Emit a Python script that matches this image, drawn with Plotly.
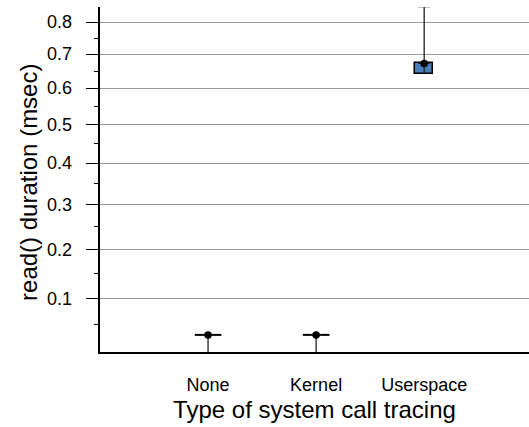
import numpy as np
import plotly.graph_objects as go

categories = ["None", "Kernel", "Userspace"]
cat_pos = [1, 2, 3]
means = [0.031, 0.031, 0.673]
box_low = [0.031, 0.031, 0.642]
box_high = [0.031, 0.031, 0.673]
whisk_low = [0.0, 0.0, 0.642]
whisk_high = [0.031, 0.031, 0.851]
major_ticks = [0.1, 0.2, 0.3, 0.4, 0.5, 0.6, 0.7, 0.8]
minor_ticks = [0.05, 0.15, 0.25, 0.35, 0.45, 0.55, 0.65, 0.75]
box_color = "#4A7EBB"

T = np.log1p  # log(1+y) scale
FONT = "Arial"
W, H = 529, 427
ML, MR, MT, MB = 100, 0, 7, 75
PW = W - ML - MR

m = T(np.array(means))
bl = T(np.array(box_low))
bh = T(np.array(box_high))
wl = T(np.array(whisk_low))
wh = T(np.array(whisk_high))

fig = go.Figure()

tall = [i for i in range(len(categories)) if bh[i] - bl[i] > 1e-9]
flat = [i for i in range(len(categories)) if bh[i] - bl[i] <= 1e-9]

# lower whiskers (no cap)
fig.add_trace(go.Scatter(
    x=cat_pos, y=m, mode="markers",
    marker=dict(color="black", size=1, opacity=0),
    error_y=dict(type="data", symmetric=False,
                 array=[0] * len(cat_pos), arrayminus=list(m - wl),
                 color="#222", thickness=1.3, width=0),
    showlegend=False, hoverinfo="skip", cliponaxis=False,
))
fig.add_trace(go.Bar(
    x=[cat_pos[i] for i in tall],
    base=[bl[i] for i in tall],
    y=[bh[i] - bl[i] for i in tall],
    width=0.165,
    marker=dict(color=box_color, line=dict(color="black", width=1.5)),
    showlegend=False, hoverinfo="skip",
))
fig.add_trace(go.Scatter(
    x=[cat_pos[i] for i in flat],
    y=[bl[i] for i in flat],
    mode="markers",
    marker=dict(symbol="line-ew-open", size=19, color="black",
                line=dict(color="black", width=2)),
    showlegend=False, hoverinfo="skip",
))
# upper whiskers (with cap) + mean points
fig.add_trace(go.Scatter(
    x=cat_pos, y=m, mode="markers",
    marker=dict(color="black", size=7.5),
    error_y=dict(type="data", symmetric=False,
                 array=list(wh - m), arrayminus=[0] * len(cat_pos),
                 color="#222", thickness=1.3, width=6),
    showlegend=False, hoverinfo="skip", cliponaxis=False,
))

# y tick labels as annotations (precise placement)
annotations = []
for v in major_ticks:
    annotations.append(dict(
        x=(73 - ML) / PW, xref="paper", xanchor="right",
        y=float(T(v)), yref="y", yanchor="middle",
        text=f"{v:.1f}", showarrow=False,
        font=dict(size=18, family=FONT, color="black"), borderpad=0,
    ))
annotations.append(dict(
    x=(29 - ML) / PW, xref="paper", xanchor="center",
    y=0.49, yref="paper", yanchor="middle",
    text="read() duration (msec)", textangle=-90, showarrow=False,
    font=dict(size=24, family=FONT, color="black"), borderpad=0,
))

fig.update_layout(
    width=W, height=H,
    margin=dict(l=ML, r=MR, t=MT, b=MB),
    paper_bgcolor="white", plot_bgcolor="white",
    font=dict(family=FONT, color="black"),
    bargap=0,
    annotations=annotations,
)
fig.update_xaxes(
    range=[0, 3.97],
    tickmode="array", tickvals=cat_pos, ticktext=categories,
    tickfont=dict(size=18, family=FONT), ticks="", ticklabelstandoff=15,
    showgrid=False, zeroline=False,
    showline=True, linecolor="black", linewidth=2,
    title=dict(text="Type of system call tracing", font=dict(size=24, family=FONT), standoff=8),
)
fig.update_yaxes(
    range=[0, T(0.85)],
    tickmode="array", tickvals=list(T(np.array(major_ticks))),
    showticklabels=False,
    ticks="outside", ticklen=12, tickcolor="black", tickwidth=1,
    showgrid=True, gridcolor="#9a9a9a", gridwidth=1,
    zeroline=False,
    showline=True, linecolor="black", linewidth=1.5,
    minor=dict(tickmode="array", tickvals=list(T(np.array(minor_ticks))),
               ticks="outside", ticklen=4, tickcolor="black", showgrid=False),
)

fig.write_html("out.html")
